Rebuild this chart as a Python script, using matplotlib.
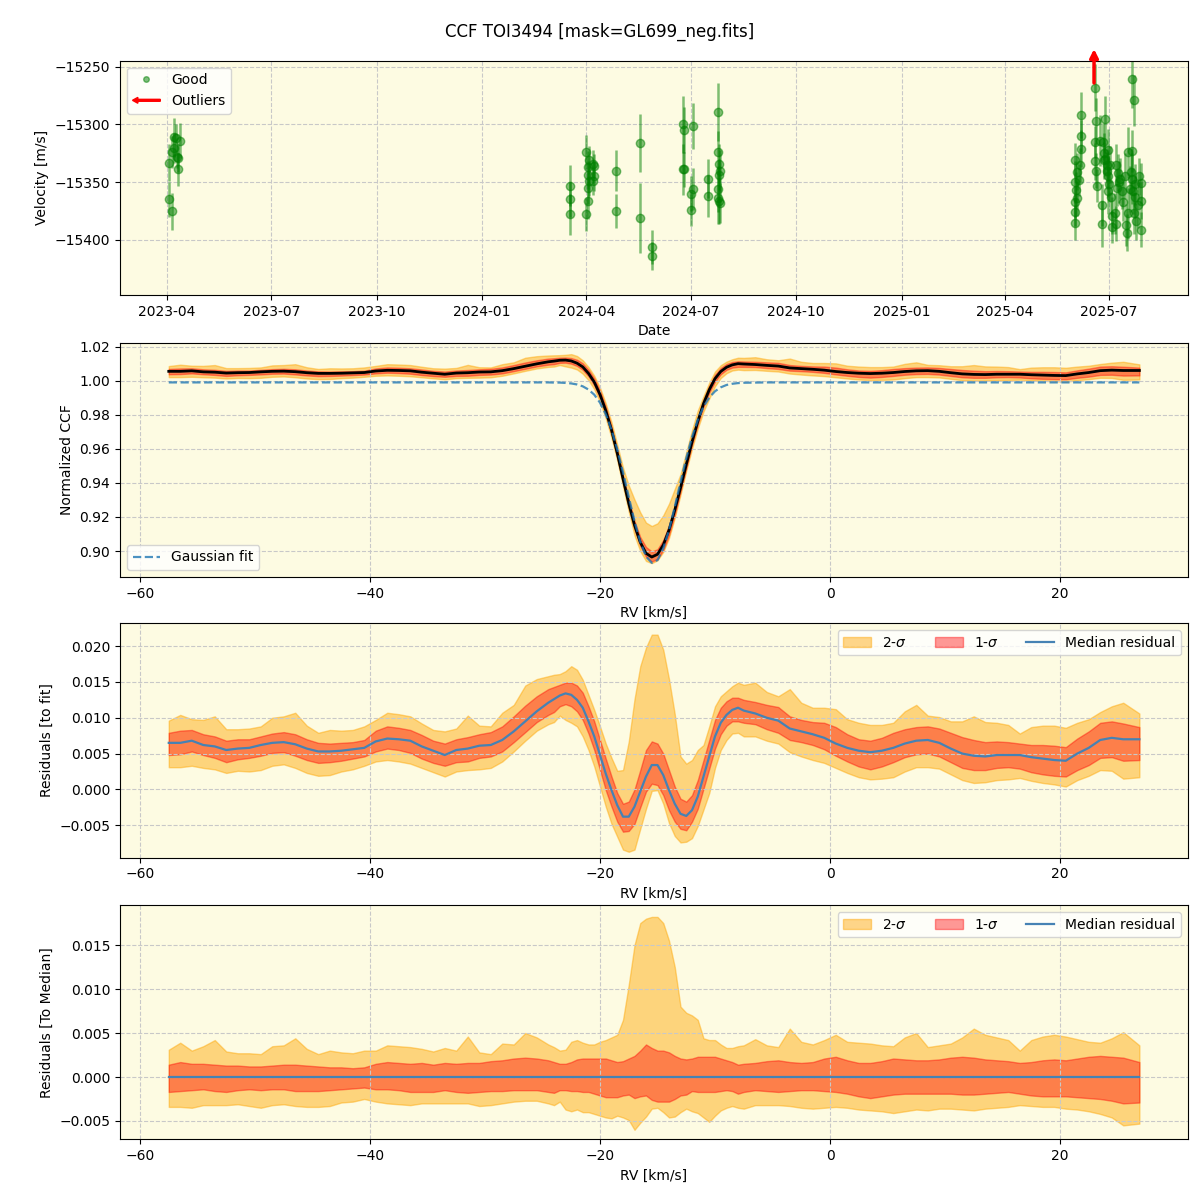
import numpy as np
import matplotlib
matplotlib.use("Agg")
import matplotlib.pyplot as plt
import matplotlib.dates as mdates
from matplotlib.lines import Line2D
from matplotlib.patches import FancyArrow, Patch
from matplotlib.legend_handler import HandlerPatch
import pandas as pd

# ---------------- Top panel: RV time series ----------------
obs_dates = [
    "2023-04-03", "2023-04-03", "2023-04-05", "2023-04-05", "2023-04-07", "2023-04-07",
    "2023-04-09", "2023-04-11", "2023-04-12", "2023-04-11", "2023-04-10",
    "2024-03-18", "2024-03-18", "2024-03-18", "2024-04-01", "2024-04-01",
    "2024-04-02", "2024-04-02", "2024-04-02", "2024-04-02", "2024-04-03", "2024-04-03",
    "2024-04-07", "2024-04-07", "2024-04-08", "2024-04-08", "2024-04-27", "2024-04-27",
    "2024-05-18", "2024-05-18", "2024-05-28", "2024-05-28", "2024-06-24", "2024-06-24",
    "2024-06-25", "2024-06-25", "2024-07-01", "2024-07-01", "2024-07-03", "2024-07-03",
    "2024-07-16", "2024-07-16", "2024-07-25", "2024-07-25", "2024-07-25", "2024-07-25",
    "2024-07-26", "2024-07-26", "2024-07-26", "2024-07-27", "2024-07-27",
    "2025-06-01", "2025-06-01", "2025-06-01", "2025-06-01", "2025-06-01", "2025-06-02",
    "2025-06-03", "2025-06-03", "2025-06-05", "2025-06-06", "2025-06-07", "2025-06-07",
    "2025-06-07", "2025-06-19", "2025-06-19", "2025-06-19", "2025-06-20", "2025-06-20",
    "2025-06-21", "2025-06-23", "2025-06-25", "2025-06-25", "2025-06-26", "2025-06-27",
    "2025-06-27", "2025-06-28", "2025-06-28", "2025-06-29", "2025-06-29", "2025-06-30",
    "2025-06-30", "2025-06-30", "2025-07-01", "2025-07-02", "2025-07-03", "2025-07-04",
    "2025-07-04", "2025-07-06", "2025-07-07", "2025-07-07", "2025-07-08", "2025-07-09",
    "2025-07-10", "2025-07-11", "2025-07-12", "2025-07-13", "2025-07-15", "2025-07-16",
    "2025-07-17", "2025-07-18", "2025-07-18", "2025-07-19", "2025-07-20", "2025-07-21",
    "2025-07-21", "2025-07-21", "2025-07-22", "2025-07-23", "2025-07-23", "2025-07-24",
    "2025-07-24", "2025-07-25", "2025-07-26", "2025-07-27", "2025-07-29", "2025-07-29",
    "2025-07-29",
]
obs_vel = [
    -15333, -15365, -15375, -15324, -15311, -15320,
    -15312, -15329, -15314, -15339, -15328,
    -15353, -15365, -15378, -15324, -15378,
    -15366, -15355, -15344, -15337, -15331, -15349,
    -15334, -15349, -15336, -15345, -15340, -15375,
    -15316, -15381, -15406, -15414, -15300, -15339,
    -15305, -15339, -15360, -15374, -15301, -15356,
    -15347, -15362, -15289, -15324, -15356, -15364,
    -15334, -15344, -15366, -15340, -15368,
    -15331, -15350, -15367, -15376, -15385, -15357,
    -15364, -15341, -15348, -15335, -15292, -15310,
    -15321, -15268, -15315, -15332, -15297, -15340,
    -15353, -15314, -15370, -15386, -15315, -15325,
    -15331, -15295, -15330, -15335, -15340, -15345,
    -15358, -15322, -15352, -15335, -15363, -15379,
    -15389, -15377, -15386, -15335, -15355, -15342,
    -15350, -15347, -15358, -15367, -15345, -15387,
    -15394, -15377, -15324, -15356, -15341, -15323,
    -15347, -15261, -15358, -15377, -15279, -15363,
    -15352, -15384, -15370, -15345, -15351, -15366,
    -15391,
]
obs_err = [
    16, 15, 16, 14, 17, 13,
    12, 12, 15, 14, 10,
    18, 15, 18, 15, 14,
    16, 14, 12, 14, 12, 13,
    12, 12, 10, 13, 18, 15,
    25, 30, 15, 12, 25, 22,
    20, 15, 15, 14, 20, 18,
    17, 18, 25, 18, 20, 22,
    17, 14, 20, 18, 17,
    15, 18, 14, 12, 15, 16,
    15, 16, 14, 15, 20, 14,
    16, 20, 14, 16, 20, 15,
    14, 22, 18, 20, 16, 18,
    16, 20, 15, 14, 16, 18,
    20, 18, 15, 16, 15, 16,
    14, 18, 15, 18, 16, 16,
    18, 18, 15, 17, 20, 18,
    16, 22, 22, 20, 20, 18,
    22, 25, 20, 18, 22, 18,
    18, 16, 20, 16, 18, 16,
    15,
]
outlier_dates = ["2025-06-18"]

# ---------------- CCF panels ----------------
rv_kms = [
    -57.5, -56.5, -55.5, -54.5, -53.5, -52.5, -51.5, -50.5, -49.5, -48.5, -47.5, -46.5,
    -45.5, -44.5, -43.5, -42.5, -41.5, -40.5, -39.5, -38.5, -37.5, -36.5, -35.5, -34.5,
    -33.5, -32.5, -31.5, -30.5, -29.5, -28.5, -27.5, -26.5, -25.5, -24.5,
    -24.0, -23.5, -23.0, -22.5, -22.0, -21.5, -21.0, -20.5, -20.0, -19.5, -19.0, -18.5,
    -18.0, -17.5, -17.0, -16.5, -16.0, -15.5, -15.0, -14.5, -14.0, -13.5, -13.0, -12.5,
    -12.0, -11.5, -11.0, -10.5, -10.0, -9.5, -9.0, -8.5, -8.0, -7.5,
    -6.5, -5.5, -4.5, -3.5, -2.5, -1.5, -0.5, 0.5, 1.5, 2.5, 3.5, 4.5,
    5.5, 6.5, 7.5, 8.5, 9.5, 10.5, 11.5, 12.5, 13.5, 14.5, 15.5, 16.5,
    17.5, 18.5, 19.5, 20.5, 21.5, 22.5, 23.5, 24.5, 25.5, 26.9,
]
gauss_fit = [
    0.9990, 0.9990, 0.9990, 0.9990, 0.9990, 0.9990, 0.9990, 0.9990, 0.9990, 0.9990, 0.9990, 0.9990,
    0.9990, 0.9990, 0.9990, 0.9990, 0.9990, 0.9990, 0.9990, 0.9990, 0.9990, 0.9990, 0.9990, 0.9990,
    0.9990, 0.9990, 0.9990, 0.9990, 0.9990, 0.9990, 0.9990, 0.9990, 0.9990, 0.9990,
    0.9989, 0.9989, 0.9987, 0.9984, 0.9978, 0.9967, 0.9948, 0.9918, 0.9871, 0.9803, 0.9712, 0.9597,
    0.9463, 0.9318, 0.9176, 0.9055, 0.8969, 0.8931, 0.8947, 0.9015, 0.9124, 0.9260, 0.9405, 0.9545,
    0.9669, 0.9770, 0.9847, 0.9901, 0.9938, 0.9961, 0.9975, 0.9982, 0.9986, 0.9988,
    0.9989, 0.9990, 0.9990, 0.9990, 0.9990, 0.9990, 0.9990, 0.9990, 0.9990, 0.9990, 0.9990, 0.9990,
    0.9990, 0.9990, 0.9990, 0.9990, 0.9990, 0.9990, 0.9990, 0.9990, 0.9990, 0.9990, 0.9990, 0.9990,
    0.9990, 0.9990, 0.9990, 0.9990, 0.9990, 0.9990, 0.9990, 0.9990, 0.9990, 0.9990,
]
# residual to fit (units of 1e-3)
resid_median_e3 = [
    6.5, 6.5, 6.8, 6.2, 6.0, 5.5, 5.7, 5.8, 6.2, 6.5, 6.6, 6.3,
    5.7, 5.3, 5.3, 5.4, 5.6, 5.8, 6.7, 7.1, 7.0, 6.8, 6.0, 5.4,
    4.8, 5.5, 5.7, 6.1, 6.2, 6.9, 8.1, 9.5, 10.9, 12.1,
    12.6, 13.1, 13.4, 13.2, 12.5, 11.4, 9.5, 7.4, 4.8, 2.2, -0.1, -2.2,
    -3.8, -3.8, -2.4, -0.3, 1.8, 3.4, 3.4, 2.0, -0.1, -2.0, -3.4, -3.7,
    -2.9, -1.0, 1.8, 4.6, 7.4, 9.3, 10.4, 11.1, 11.4, 11.0,
    10.6, 10.0, 9.6, 8.5, 8.1, 7.7, 7.2, 6.4, 5.8, 5.4, 5.2, 5.4,
    5.8, 6.4, 6.8, 6.9, 6.5, 5.7, 5.0, 4.7, 4.6, 4.8, 4.8, 4.8,
    4.5, 4.3, 4.1, 4.0, 5.0, 5.8, 6.9, 7.2, 7.0, 7.0,
]
# band offsets relative to the median (units of 1e-3)
sig1_hi_e3 = [
    1.4, 1.7, 1.5, 1.5, 1.4, 1.3, 1.3, 1.2, 1.2, 1.3, 1.4, 1.4,
    1.3, 1.2, 1.1, 1.1, 1.0, 1.1, 1.5, 1.7, 1.6, 1.5, 1.6, 1.4,
    1.6, 1.5, 1.6, 1.6, 1.8, 1.9, 2.1, 2.2, 2.1, 1.9,
    1.7, 1.5, 1.5, 1.7, 2.0, 2.1, 2.1, 2.1, 2.1, 2.1, 1.9, 1.7,
    1.8, 2.1, 2.4, 3.0, 3.7, 3.3, 3.0, 3.0, 2.8, 2.4, 2.1, 2.0,
    2.1, 2.3, 2.3, 2.3, 2.3, 2.1, 1.9, 1.7, 1.4, 1.5,
    1.6, 1.8, 1.9, 1.7, 1.6, 1.7, 2.1, 2.3, 1.9, 1.6, 1.6, 1.8,
    2.1, 2.0, 1.9, 1.9, 2.0, 2.2, 2.3, 2.2, 2.0, 1.9, 1.8, 1.6,
    1.7, 1.9, 2.0, 1.9, 2.1, 2.3, 2.4, 2.3, 2.2, 1.7,
]
sig1_lo_e3 = [
    -1.7, -1.6, -1.5, -1.4, -1.6, -1.7, -1.5, -1.4, -1.5, -1.4, -1.4, -1.6,
    -1.6, -1.6, -1.5, -1.4, -1.3, -1.2, -1.4, -1.4, -1.5, -1.7, -1.7, -1.7,
    -1.5, -1.7, -1.8, -1.7, -1.6, -1.6, -1.5, -1.5, -1.5, -1.7,
    -1.8, -1.5, -1.5, -1.6, -1.6, -1.7, -1.7, -1.9, -2.1, -2.3, -2.3, -2.3,
    -2.1, -2.0, -2.4, -2.2, -2.1, -2.6, -2.8, -2.8, -2.8, -2.5, -2.1, -2.0,
    -1.6, -1.7, -1.7, -1.7, -1.7, -1.6, -1.5, -1.6, -1.9, -1.7,
    -1.5, -1.6, -1.7, -1.6, -1.5, -1.5, -1.6, -1.7, -1.9, -2.2, -2.4, -2.2,
    -2.0, -1.9, -1.9, -1.9, -1.9, -1.9, -2.0, -2.0, -1.9, -1.8, -1.7, -1.9,
    -2.1, -2.2, -2.2, -2.2, -2.3, -2.4, -2.5, -2.7, -3.0, -2.9,
]
sig2_hi_e3 = [
    3.1, 3.9, 3.0, 3.5, 4.2, 2.9, 2.7, 2.7, 2.6, 3.5, 3.6, 4.4,
    3.2, 2.6, 3.0, 2.8, 2.7, 3.0, 3.0, 3.6, 3.5, 3.4, 3.2, 2.9,
    3.3, 3.0, 4.6, 2.8, 2.6, 3.8, 3.7, 5.0, 4.5, 3.7,
    3.4, 3.0, 3.1, 4.0, 4.2, 3.9, 3.7, 3.7, 4.0, 4.2, 4.5, 4.8,
    6.5, 10.5, 15.0, 17.5, 18.0, 18.2, 18.2, 17.5, 15.5, 12.5, 8.0, 7.3,
    7.0, 6.5, 4.4, 4.2, 4.2, 3.7, 3.3, 3.3, 3.5, 3.6,
    4.3, 3.6, 3.4, 5.5, 4.0, 3.7, 4.2, 4.8, 4.0, 3.9, 3.8, 3.6,
    3.5, 4.5, 5.0, 3.4, 3.6, 3.8, 4.5, 5.5, 4.8, 4.5, 4.2, 3.0,
    4.2, 4.6, 4.8, 4.6, 4.3, 4.0, 3.9, 4.4, 5.1, 3.6,
]
sig2_lo_e3 = [
    -3.4, -3.4, -3.5, -3.2, -3.2, -3.2, -3.1, -3.3, -3.5, -3.2, -3.1, -3.3,
    -3.4, -3.4, -3.3, -2.9, -2.8, -2.5, -2.8, -3.0, -3.1, -3.2, -3.0, -3.0,
    -3.0, -3.0, -3.0, -3.3, -3.2, -3.0, -2.8, -2.7, -2.7, -3.0,
    -3.2, -2.8, -3.7, -3.9, -3.7, -4.0, -4.0, -4.2, -4.4, -4.6, -4.7, -4.4,
    -4.6, -4.9, -6.0, -5.2, -4.5, -3.6, -3.5, -4.0, -4.6, -4.5, -4.0, -3.6,
    -3.9, -4.1, -4.6, -5.1, -4.4, -3.8, -3.5, -3.3, -3.5, -3.6,
    -3.2, -3.2, -3.2, -3.3, -3.5, -3.6, -3.5, -3.4, -3.5, -3.7, -3.8, -3.9,
    -4.1, -3.9, -3.7, -3.8, -3.6, -3.6, -3.7, -3.8, -3.6, -3.5, -3.4, -3.2,
    -3.3, -3.4, -3.4, -3.6, -3.7, -3.9, -4.2, -4.6, -5.5, -5.3,
]

# ---------------- derived arrays ----------------
rv = np.array(rv_kms)
fit = np.array(gauss_fit)
med = np.array(resid_median_e3) * 1e-3
s1h = np.array(sig1_hi_e3) * 1e-3
s1l = np.array(sig1_lo_e3) * 1e-3
s2h = np.array(sig2_hi_e3) * 1e-3
s2l = np.array(sig2_lo_e3) * 1e-3

bg = "#fdfbe2"
c2 = "orange"
c1 = "red"
a2 = 0.45
a1 = 0.4
cmed = "#4682b4"

fig = plt.figure(figsize=(12, 12), dpi=100)
fig.suptitle("CCF TOI3494 [mask=GL699_neg.fits]", y=0.981, fontsize=12)

L, W, H = 0.1, 0.89, 0.1952
ax1 = fig.add_axes([L, 0.7542, W, H])
ax2 = fig.add_axes([L, 0.5192, W, H])
ax3 = fig.add_axes([L, 0.2853, W, H])
ax4 = fig.add_axes([L, 0.0506, W, H])

for ax in (ax1, ax2, ax3, ax4):
    ax.set_facecolor(bg)
    ax.grid(True, ls="--", color="#c8c8c8", lw=0.8)

# ---- panel 1 ----
d = pd.to_datetime(obs_dates)
ax1.errorbar(d, obs_vel, yerr=obs_err, fmt="o", color="green", alpha=0.5,
             ms=6, elinewidth=1.8, capsize=0)
ax1.set_ylim(-15447.7, -15244.8)
ax1.set_xlim(pd.Timestamp("2023-02-19"), pd.Timestamp("2025-09-08"))
ax1.xaxis.set_major_locator(mdates.MonthLocator(bymonth=[1, 4, 7, 10]))
ax1.xaxis.set_major_formatter(mdates.DateFormatter("%Y-%m"))
ax1.set_xlabel("Date")
ax1.set_ylabel("Velocity [m/s]")
for od in pd.to_datetime(outlier_dates):
    x = mdates.date2num(od)
    ax1.annotate("", xy=(x, 1.05), xycoords=("data", "axes fraction"),
                 xytext=(x, 0.905), textcoords=("data", "axes fraction"),
                 arrowprops=dict(arrowstyle="-|>", color="red", lw=2.5,
                                 mutation_scale=12, shrinkA=0, shrinkB=0),
                 annotation_clip=False)


def make_arrow(legend, orig_handle, xdescent, ydescent, width, height, fontsize):
    return FancyArrow(width - xdescent, 0.5 * height - ydescent, -width, 0,
                      width=height * 0.2, head_width=height * 0.6,
                      head_length=height * 0.55, length_includes_head=True,
                      color="red")


good_h = Line2D([], [], marker="o", ls="none", color="green", alpha=0.5, ms=4)
out_h = Patch(color="red")
ax1.legend([good_h, out_h], ["Good", "Outliers"], loc="upper left",
           handler_map={Patch: HandlerPatch(patch_func=make_arrow)})

# ---- panel 2 ----
ccf = fit + med
ax2.fill_between(rv, ccf + s2l, ccf + s2h, color=c2, alpha=a2)
ax2.fill_between(rv, ccf + s1l, ccf + s1h, color=c1, alpha=a1)
ax2.plot(rv, ccf, color="black", lw=2)
ax2.plot(rv, fit, ls="--", color="C0", alpha=0.8, lw=1.6, label="Gaussian fit")
ax2.set_xlim(-61.74, 31.13)
ax2.set_ylim(0.8848, 1.0223)
ax2.set_xlabel("RV [km/s]")
ax2.set_ylabel("Normalized CCF")
ax2.legend(loc="lower left")

# ---- panel 3 ----
ax3.fill_between(rv, med + s2l, med + s2h, color=c2, alpha=a2, label=r"2-$\sigma$")
ax3.fill_between(rv, med + s1l, med + s1h, color=c1, alpha=a1, label=r"1-$\sigma$")
ax3.plot(rv, med, color=cmed, lw=1.6, label="Median residual")
ax3.set_xlim(-61.74, 31.13)
ax3.set_ylim(-0.00952, 0.02317)
ax3.set_xlabel("RV [km/s]")
ax3.set_ylabel("Residuals [to fit]")
ax3.legend(loc="upper right", ncol=3)

# ---- panel 4 ----
ax4.fill_between(rv, s2l, s2h, color=c2, alpha=a2, label=r"2-$\sigma$")
ax4.fill_between(rv, s1l, s1h, color=c1, alpha=a1, label=r"1-$\sigma$")
ax4.plot(rv, np.zeros_like(rv), color=cmed, lw=1.6, label="Median residual")
ax4.set_xlim(-61.74, 31.13)
ax4.set_ylim(-0.00708, 0.01955)
ax4.set_xlabel("RV [km/s]")
ax4.set_ylabel("Residuals [To Median]")
ax4.legend(loc="upper right", ncol=3)

fig.savefig("out.png", dpi=100)
